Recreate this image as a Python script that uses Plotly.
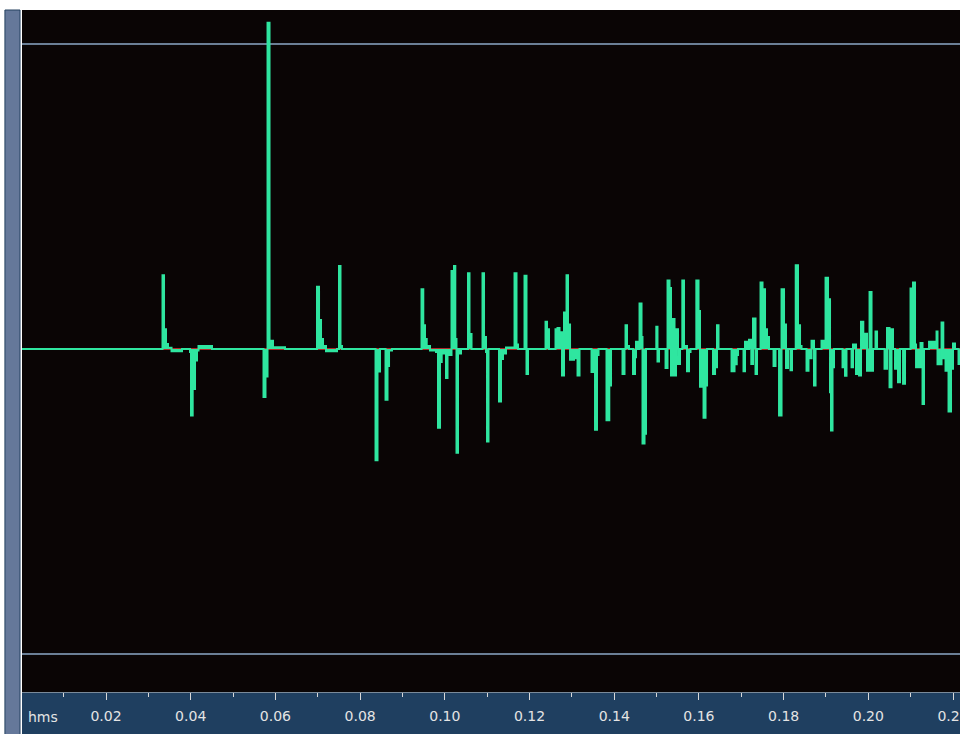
import plotly.graph_objects as go

# Waveform samples: time (ms) and amplitude (full scale = 1)
time_ms = [
    0.17, 33.34, 33.70, 34.17, 34.64, 35.47, 37.95,
    39.83, 40.07, 40.47, 41.02, 41.49, 41.84, 45.03,
    57.19, 57.66, 58.14, 58.61, 59.43, 62.27,
    69.82, 70.30, 70.77, 71.24, 71.95, 74.55, 75.02, 75.37, 75.73,
    83.64, 84.11, 84.70, 86.00, 86.47, 86.83, 87.53,
    94.50, 94.92, 95.32, 95.73, 96.51, 97.92, 98.39, 98.87, 99.27,
    100.28, 100.64, 100.99, 101.58, 101.94, 102.17, 102.48, 102.76, 103.12, 103.35, 103.83,
    105.48, 105.83, 106.31, 108.90, 109.26, 109.73, 109.97, 110.32,
    112.80, 113.27, 113.74, 114.45, 116.46, 116.93, 117.29, 118.82, 119.29, 119.65,
    123.78, 124.13, 124.61, 126.14, 126.61, 127.09, 127.68, 128.15, 128.74, 129.09, 129.57,
    130.51, 131.34, 131.81, 134.64, 135.47, 135.94, 136.30,
    138.18, 138.84, 139.25, 141.96, 142.43, 142.67, 143.02, 143.50,
    144.44, 144.91, 145.15, 145.62, 145.98, 146.45, 146.68, 147.16, 147.51,
    149.94, 150.22, 150.58, 152.12, 152.59, 153.06, 153.41, 153.89, 154.24, 154.59, 155.07, 155.54,
    156.08, 156.48, 157.19, 157.66, 158.02, 159.39, 159.91, 160.26, 161.09, 161.56, 161.92,
    163.33, 163.81, 164.27, 164.63, 167.70, 168.41, 168.93, 169.24,
    170.53, 170.89, 171.36, 171.83, 172.37, 172.78, 173.37, 173.72,
    174.55, 175.02, 175.61, 176.08, 176.55, 177.62, 178.09, 178.92, 179.51, 180.10, 180.57, 181.04,
    181.63, 181.98, 182.86, 183.40, 183.88, 184.23,
    185.41, 185.88, 186.59, 187.18, 187.54, 188.95, 189.90, 190.49, 190.96, 191.19, 191.55, 191.90,
    193.91, 194.50, 194.85, 196.04, 196.39, 197.10, 197.81, 198.28, 198.82, 199.22, 199.69,
    200.29, 200.76, 201.11, 201.70, 202.06, 203.83, 204.42, 205.01, 205.48, 205.83,
    206.31, 207.01, 207.49, 208.20, 208.67, 209.97, 210.56, 211.03, 211.27,
    212.33, 212.80, 213.15, 214.34, 215.28, 216.11, 216.34, 217.29, 217.71,
    218.23, 218.94, 219.53, 220.00, 220.47, 221.30, 221.65,
]
amplitude = [
    0.0, 0.242, 0.065, 0.016, 0.004, -0.007, 0.0,
    -0.01, -0.218, -0.131, -0.038, -0.005, 0.01, 0.0,
    -0.157, -0.09, 1.07, 0.027, 0.006, 0.0,
    0.204, 0.095, 0.033, 0.01, -0.007, 0.0, 0.272, 0.01, 0.0,
    -0.365, -0.074, 0.0, -0.166, -0.056, -0.005, 0.0,
    0.196, 0.078, 0.033, 0.01, -0.005, -0.01, -0.258, -0.043, -0.015,
    -0.095, -0.01, -0.02, 0.256, 0.03, 0.272, 0.033, -0.34, 0.0, -0.015, 0.0,
    0.248, 0.049, 0.0, 0.248, 0.039, -0.01, -0.303, 0.0,
    -0.172, -0.033, -0.015, 0.005, 0.248, 0.015, 0.0, 0.24, -0.082, 0.0,
    0.089, 0.065, 0.0, 0.065, 0.069, 0.055, -0.087, 0.12, 0.242, 0.08, -0.035,
    -0.03, -0.087, 0.0, -0.075, -0.265, -0.02, 0.0,
    -0.234, -0.12, 0.0, -0.082, 0.0, 0.078, 0.01, 0.0,
    -0.082, -0.027, 0.024, 0.0, 0.149, 0.039, -0.31, -0.278, 0.0,
    0.073, -0.041, 0.0, -0.062, 0.225, 0.2, -0.087, 0.098, -0.087, 0.065, -0.049, 0.0,
    0.225, 0.01, -0.073, -0.01, 0.0, 0.225, 0.125, -0.124, -0.225, -0.12, 0.0,
    -0.082, -0.06, 0.078, 0.0, -0.073, -0.05, -0.02, 0.0,
    -0.073, 0.024, 0.0, 0.03, -0.049, 0.1, -0.082, 0.0,
    0.218, 0.196, 0.065, 0.039, 0.0, -0.056, 0.0, -0.218, 0.196, 0.08, -0.062, 0.0,
    -0.07, 0.0, 0.275, 0.078, 0.01, 0.0,
    -0.071, -0.03, 0.027, -0.12, 0.0, 0.027, 0.234, 0.163, -0.142, -0.267, -0.06, 0.0,
    -0.06, -0.088, 0.0, -0.06, 0.015, -0.082, -0.087, 0.089, 0.046, 0.05, -0.071,
    0.187, -0.071, 0.0, 0.057, 0.0, -0.065, 0.069, -0.125, 0.065, 0.0,
    -0.065, -0.109, 0.0, -0.114, 0.0, 0.198, 0.218, 0.015, -0.06,
    0.02, -0.18, 0.0, 0.024, 0.024, 0.057, -0.05, 0.087, -0.03,
    -0.071, -0.205, -0.065, 0.018, 0.0, -0.049, 0.0,
]

tick_values = [0.02, 0.04, 0.06, 0.08, 0.10, 0.12, 0.14, 0.16, 0.18, 0.20, 0.22]
tick_labels = ["0.02", "0.04", "0.06", "0.08", "0.10", "0.12", "0.14", "0.16", "0.18", "0.20", "0.22"]
minor_values = [0.01, 0.03, 0.05, 0.07, 0.09, 0.11, 0.13, 0.15, 0.17, 0.19, 0.21]
full_scale = [1.0, -1.0]

t_sec = [t / 1000.0 for t in time_ms]
x_min, x_max = 0.000165, 0.22165
y_min, y_max = -1.1246, 1.1115

fig = go.Figure()

# red reference channel drawn under the green one
fig.add_trace(go.Scatter(
    x=[t_sec[0], t_sec[-1]], y=[0, 0], mode="lines",
    line=dict(color="#b02a2a", width=2), hoverinfo="skip", showlegend=False,
))
fig.add_trace(go.Scatter(
    x=t_sec, y=amplitude, mode="lines", line_shape="hv",
    line=dict(color="#2fe6a0", width=2), fill="tozeroy", fillcolor="#2fe6a0",
    showlegend=False,
))

shapes = []
for v in full_scale:
    shapes.append(dict(type="line", xref="x", yref="y", x0=x_min, x1=x_max, y0=v, y1=v,
                       line=dict(color="#6b7f96", width=2), layer="below"))
# bottom time-ruler strip
shapes.append(dict(type="rect", xref="paper", yref="paper", x0=0.0, x1=1.0,
                   y0=-0.0625, y1=-0.0015, fillcolor="#1f3f60", line=dict(width=0), layer="below"))
# left vertical panel
shapes.append(dict(type="rect", xref="paper", yref="paper", x0=-0.0182, x1=-0.0021,
                   y0=-0.0625, y1=1.0, fillcolor="#65789a", line=dict(color="#24405f", width=1),
                   layer="below"))

fig.update_layout(
    width=960, height=734,
    margin=dict(l=22, r=0, t=10, b=42, autoexpand=False),
    paper_bgcolor="#ffffff",
    plot_bgcolor="#0a0505",
    shapes=shapes,
    showlegend=False,
    font=dict(family="DejaVu Sans", size=14, color="#e4e4e4"),
    annotations=[dict(text="hms", xref="paper", yref="paper", x=0.004, y=-0.036,
                      xanchor="left", yanchor="middle", showarrow=False,
                      font=dict(family="DejaVu Sans", size=14, color="#e4e4e4"))],
    xaxis=dict(
        range=[x_min, x_max], showgrid=False, zeroline=False, automargin=False,
        tickvals=tick_values, ticktext=tick_labels,
        ticks="outside", ticklen=7, tickwidth=1, tickcolor="#d8d8d8",
        ticklabelstandoff=4, ticklabeloverflow="allow",
        showline=True, linecolor="#7a8a9a", linewidth=1,
        tickfont=dict(family="DejaVu Sans", size=14, color="#e4e4e4"),
        minor=dict(tickvals=minor_values, ticks="outside", ticklen=4, tickcolor="#d8d8d8"),
    ),
    yaxis=dict(range=[y_min, y_max], showgrid=False, zeroline=False, automargin=False,
               showticklabels=False, ticks=""),
)

fig.write_html("out.html", config={"displayModeBar": False},
               post_script="document.body.style.margin='0px';"
               "document.body.style.overflow='hidden';")
